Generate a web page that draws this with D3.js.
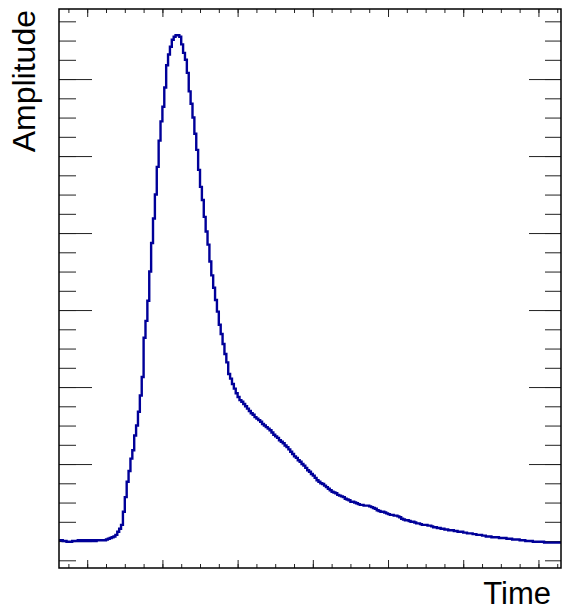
<!DOCTYPE html>
<html>
<head>
<meta charset="utf-8">
<script src="https://cdn.jsdelivr.net/npm/d3@7"></script>
<style>
  html, body { margin: 0; padding: 0; background: #fff; }
  svg { display: block; }
</style>
</head>
<body>
<script>
// Histogram settings (time axis in ns, bins of 1.25 ns)
const binStart = -18.75;
const binWidth = 1.25;

// Amplitude per bin
const amplitude = [
  1, 1, 0, 0, -1, -1, -1, 0, 0, 0,
  1, 0, 1, 0, 1, 0, 1, 0, 1, 0,
  1, 1, 1, 1, 1, 2, 3, 4, 5, 6,
  8, 12, 16, 21, 38, 57, 77, 91, 107, 118,
  137, 150, 168, 189, 213, 264, 286, 312, 350, 387,
  419, 450, 486, 520, 545, 564, 589, 618, 632, 642,
  651, 655, 657, 657, 655, 645, 634, 625, 608, 584,
  568, 550, 529, 508, 482, 460, 443, 421, 402, 385,
  363, 345, 329, 313, 298, 281, 269, 256, 243, 232,
  217, 211, 204, 198, 192, 187, 183, 181, 178, 175,
  172, 169, 166, 164, 161, 159, 157, 155, 152, 150,
  148, 146, 144, 141, 138, 136, 134, 131, 129, 127,
  124, 122, 119, 116, 113, 110, 108, 105, 103, 100,
  98, 95, 92, 90, 87, 85, 82, 79, 77, 75,
  74, 72, 70, 68, 66, 64, 63, 62, 60, 59,
  58, 57, 55, 54, 53, 51, 51, 50, 49, 48,
  47, 47, 46, 46, 46, 45, 44, 43, 42, 40,
  39, 38, 38, 37, 36, 35, 34, 34, 33, 33,
  32, 31, 29, 28, 27, 27, 26, 25, 25, 24,
  23, 23, 22, 21, 21, 21, 20, 20, 19, 18,
  18, 17, 17, 16, 16, 15, 15, 14, 14, 14,
  13, 13, 12, 12, 12, 11, 11, 10, 10, 10,
  9, 9, 8, 8, 8, 7, 7, 6, 6, 6,
  5, 5, 5, 5, 4, 4, 4, 4, 3, 3,
  3, 2, 2, 2, 2, 1, 1, 1, 0, 0,
  0, 0, -1, -1, -1, -1, -1, -1, -2, -2,
  -2, -2, -2, -2, -2, -2, -2
];

// Axis ranges and tick steps
const xRange = [-18.75, 315];
const yRange = [-35, 691];
const xMajor = d3.range(0, 301, 50);
const xMinor = d3.range(-12.5, 315, 12.5);
const yMajor = d3.range(0, 601, 100);
const yMinor = d3.range(-25, 691, 25);

// SVG setup
const width = 562;
const height = 611;
const frame = { left: 59, right: 561, top: 9, bottom: 568 };

const svg = d3.select('body')
.append('svg')
.attr('width', width)
.attr('height', height);

const xScale = d3.scaleLinear()
.domain(xRange)
.range([frame.left, frame.right]);

const yScale = d3.scaleLinear()
.domain(yRange)
.range([frame.bottom, frame.top]);

// Ticks: ROOT style, on all four sides, no labels
function drawAxis(axisFn, scale, values, size, transform) {
  const g = svg.append('g')
  .attr('transform', transform)
  .call(axisFn(scale).tickValues(values).tickSize(size).tickFormat(''));
  g.select('.domain').remove();
  g.selectAll('line').attr('stroke', '#222').attr('stroke-width', 1);
}

const fw = frame.right - frame.left;
const fh = frame.bottom - frame.top;

drawAxis(d3.axisTop, xScale, xMinor, 4, `translate(0,${frame.bottom})`);
drawAxis(d3.axisTop, xScale, xMajor, 8, `translate(0,${frame.bottom})`);
drawAxis(d3.axisBottom, xScale, xMinor, 4, `translate(0,${frame.top})`);
drawAxis(d3.axisBottom, xScale, xMajor, 8, `translate(0,${frame.top})`);
drawAxis(d3.axisRight, yScale, yMinor, 17, `translate(${frame.left},0)`);
drawAxis(d3.axisRight, yScale, yMajor, 33, `translate(${frame.left},0)`);
drawAxis(d3.axisLeft, yScale, yMinor, 16, `translate(${frame.right},0)`);
drawAxis(d3.axisLeft, yScale, yMajor, 32, `translate(${frame.right},0)`);

// Histogram outline as steps
const points = amplitude.map((v, i) => [binStart + i * binWidth, v]);
points.push([binStart + amplitude.length * binWidth, amplitude[amplitude.length - 1]]);

const line = d3.line()
.x(d => xScale(d[0]))
.y(d => yScale(d[1]))
.curve(d3.curveStepAfter);

svg.append('path')
.datum(points)
.attr('d', line)
.attr('fill', 'none')
.attr('stroke', '#000099')
.attr('stroke-width', 2.4)
.attr('stroke-linejoin', 'miter');

// Frame
svg.append('rect')
.attr('x', frame.left)
.attr('y', frame.top)
.attr('width', fw)
.attr('height', fh)
.attr('fill', 'none')
.attr('stroke', '#000')
.attr('stroke-width', 1.5);

// Axis titles
svg.append('text')
.text('Amplitude')
.attr('transform', `translate(35,${frame.top + 1}) rotate(-90)`)
.attr('text-anchor', 'end')
.attr('font-family', '"Liberation Sans", Arial, sans-serif')
.attr('font-size', '32px')
.attr('fill', '#000');

svg.append('text')
.text('Time')
.attr('x', 551)
.attr('y', 604)
.attr('text-anchor', 'end')
.attr('font-family', '"Liberation Sans", Arial, sans-serif')
.attr('font-size', '31px')
.attr('fill', '#000');
</script>
</body>
</html>
